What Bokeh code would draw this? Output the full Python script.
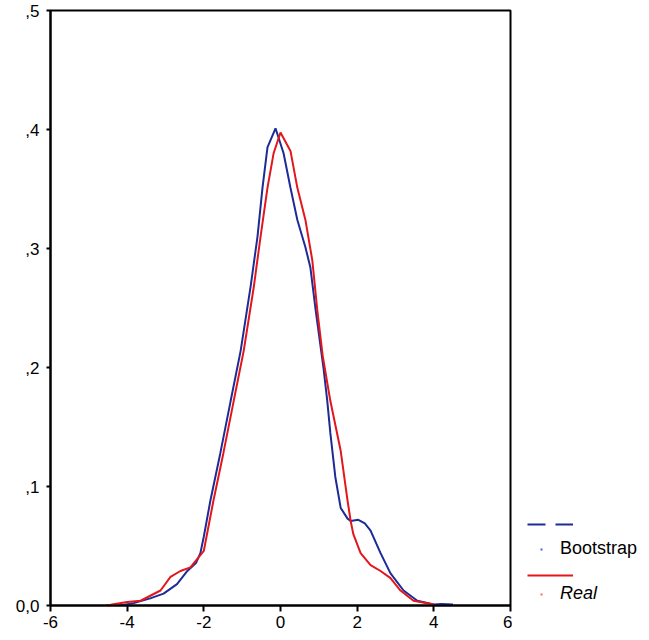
from bokeh.plotting import figure
from bokeh.models import Range1d, FixedTicker, Legend, LegendItem
from bokeh.layouts import row
from bokeh.embed import file_html
from bokeh.resources import INLINE

# Bootstrap density (blue)
boot_x = [-4.2, -3.83, -3.4, -3.05, -2.7, -2.43, -2.2, -2.09, -2.0, -1.83, -1.57, -1.3,
          -1.04, -0.78, -0.6, -0.47, -0.34, -0.13, 0.08, 0.26, 0.44, 0.65, 0.78, 0.91,
          1.12, 1.22, 1.3, 1.43, 1.57, 1.75, 1.83, 2.03, 2.2, 2.35, 2.61, 2.87, 3.21,
          3.57, 4.0, 4.2, 4.5]
boot_y = [0.0, 0.002, 0.006, 0.010, 0.018, 0.029, 0.036, 0.044, 0.058, 0.088, 0.128, 0.172,
          0.214, 0.268, 0.31, 0.351, 0.385, 0.401, 0.38, 0.351, 0.324, 0.301, 0.284, 0.25,
          0.20, 0.172, 0.145, 0.108, 0.082, 0.073, 0.071, 0.072, 0.069, 0.063, 0.044, 0.027,
          0.0126, 0.004, 0.0008, 0.0012, 0.0008]

# Real density (red)
real_x = [-4.57, -4.43, -4.0, -3.65, -3.13, -2.87, -2.61, -2.35, -2.0, -1.75, -1.49, -1.22,
          -0.96, -0.7, -0.52, -0.34, -0.18, 0.0, 0.26, 0.44, 0.65, 0.83, 0.96, 1.1, 1.3,
          1.57, 1.75, 1.83, 1.9, 2.09, 2.35, 2.61, 2.87, 3.13, 3.47, 4.0]
real_y = [0.0, 0.0007, 0.003, 0.004, 0.0126, 0.024, 0.029, 0.032, 0.046, 0.088, 0.128, 0.172,
          0.214, 0.267, 0.31, 0.351, 0.38, 0.3975, 0.382, 0.351, 0.324, 0.29, 0.248, 0.21, 0.172,
          0.13, 0.088, 0.071, 0.06, 0.044, 0.034, 0.029, 0.023, 0.0126, 0.004, 0.0008]

x_ticks = [-6, -4, -2, 0, 2, 4, 6]
x_tick_labels = ["-6", "-4", "-2", "0", "2", "4", "6"]
y_ticks = [0, 0.1, 0.2, 0.3, 0.4, 0.5]
y_tick_labels = ["0,0", ",1", ",2", ",3", ",4", ",5"]

series_names = ["Bootstrap", "Real"]
BLUE = "#1c2b96"
RED = "#e3161c"
NAN = float("nan")
FONT = "Liberation Sans"

# ---------------- main plot ----------------
p = figure(width=512, height=640, output_backend="svg", toolbar_location=None,
           x_range=Range1d(-6, 6), y_range=Range1d(0, 0.5),
           min_border_left=50, min_border_right=2, min_border_top=10, min_border_bottom=35)
p.background_fill_color = "white"
p.border_fill_color = "white"
p.grid.visible = False
p.outline_line_color = "black"
p.outline_line_width = 2

for ax in (p.xaxis, p.yaxis):
    ax.axis_line_width = 2
    ax.axis_line_color = "black"
    ax.major_tick_line_width = 2
    ax.major_tick_line_color = "black"
    ax.minor_tick_line_color = None
    ax.major_tick_in = 0
    ax.major_label_text_font = FONT
    ax.major_label_text_font_size = "17px"
    ax.major_label_text_color = "black"

p.xaxis.ticker = FixedTicker(ticks=x_ticks)
p.xaxis.major_label_overrides = {t: l for t, l in zip(x_ticks, x_tick_labels)}
p.xaxis.major_tick_out = 6
p.xaxis.major_label_standoff = 4
p.yaxis.ticker = FixedTicker(ticks=y_ticks)
p.yaxis.major_label_overrides = {t: l for t, l in zip(y_ticks, y_tick_labels)}
p.yaxis.major_tick_out = 4
p.yaxis.major_label_standoff = 7

p.line(boot_x, boot_y, line_color=BLUE, line_width=2)
p.line(real_x, real_y, line_color=RED, line_width=2)

# ---------------- legend panel ----------------
q = figure(width=133, height=640, output_backend="svg", toolbar_location=None,
           x_axis_type=None, y_axis_type=None,
           min_border_left=0, min_border_right=0, min_border_top=0, min_border_bottom=0)
q.grid.visible = False
q.outline_line_color = None
q.background_fill_color = "white"
q.border_fill_color = "white"

leg_bl = q.line([NAN], [NAN], line_color=BLUE, line_width=2, line_dash="18 10")
leg_rl = q.line([NAN], [NAN], line_color=RED, line_width=2)
leg_bd = q.line([NAN], [NAN], line_color="#3a6ad8", line_width=2, line_dash="0 13 2 100")
leg_rd = q.line([NAN], [NAN], line_color="#f07050", line_width=2, line_dash="0 13 2 100")

common = dict(margin=0, padding=0, glyph_height=20, label_height=20, label_standoff=5,
              label_text_font=FONT, label_text_font_size="18px", label_text_color="black",
              border_line_color=None, background_fill_alpha=0)

leg_lines = Legend(items=[LegendItem(label=" ", renderers=[leg_bl]),
                          LegendItem(label=" ", renderers=[leg_rl])],
                   location=(15, 20), spacing=31, glyph_width=46, **common)
leg_boot = Legend(items=[LegendItem(label=series_names[0], renderers=[leg_bd])],
                  location=(15, 46), spacing=0, glyph_width=28, **common)
leg_real = Legend(items=[LegendItem(label=series_names[1], renderers=[leg_rd])],
                  location=(15, 1), spacing=0, glyph_width=28, label_text_font_style="italic",
                  **common)
for lg in (leg_lines, leg_boot, leg_real):
    q.add_layout(lg, "center")

layout = row(p, q)
open("out.html", "w").write(file_html(layout, INLINE))
